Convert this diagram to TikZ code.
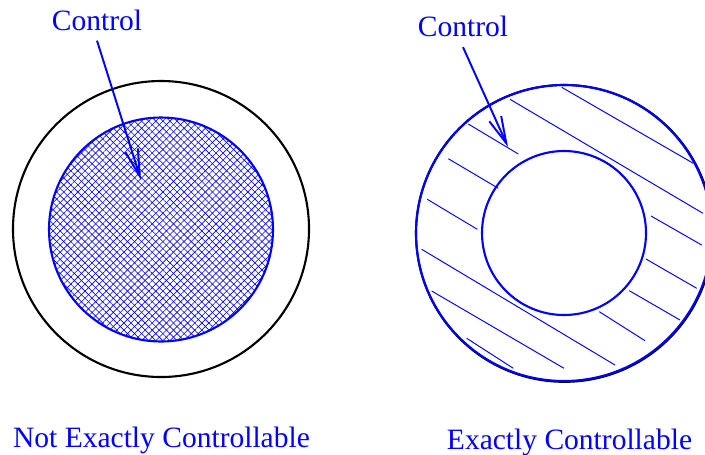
\documentclass[tikz,border=0pt]{standalone}
\usepackage{fontspec}
\setmainfont{Liberation Serif}
\newfontfamily\figfont{Liberation Serif}
\usetikzlibrary{arrows.meta,patterns.meta}

\begin{document}
\begin{tikzpicture}[x=0.02cm, y=-0.02cm,
    lbl/.style={text=blue, font=\figfont\fontsize{16.8}{20}\selectfont, inner sep=0.2cm, anchor=base},
    arr/.style={blue, line width=1.1pt, -{Straight Barb[length=0.54cm, width=0.26cm, line width=1.1pt]}},
    rim/.style={line width=1.2pt},
    hatch/.style={blue, line width=0.55pt},
    xhatch/.style={pattern={Lines[angle=#1, distance=2.85pt, line width=0.35pt]}, pattern color=blue}
]
\useasboundingbox (0,0) rectangle (705,454);

% not exactly controllable
\draw[rim] (161,229) circle[radius=148];
\fill[xhatch=45] (161,229.5) circle[radius=112];
\fill[xhatch=-45] (161,229.5) circle[radius=112];
\draw[rim, blue] (161,229.5) circle[radius=112];

% exactly controllable
\draw[rim] (564.4,233.4) circle[radius=148.4];
\draw[rim, blue] (564,233) circle[radius=148];
\foreach \a/\b in {{561.7,87.3}/{693.3,163.3}, {510,99.3}/{703,213.3},
    {468.3,124}/{518.3,154}, {448.3,158.7}/{498.3,188.3},
    {427.3,199.3}/{477.3,229.3}, {421.7,249.3}/{615,365},
    {431.7,291}/{564,368.3}, {466.7,338.3}/{513.3,368.3},
    {651,216}/{701.7,245}, {646,259}/{696.7,288.3},
    {629.3,290.7}/{680,320}, {599.3,311.7}/{645,340.7}}
  \draw[hatch] (\a) -- (\b);
\draw[rim, blue] (564,233) circle[radius=82];

% labels and arrows
\node[lbl] (ctrlL) at (97,30) {Control};
\coordinate (tipL) at (141,180);
\draw[arr] (ctrlL.south) -- (tipL);

\node[lbl] (ctrlR) at (463,36.5) {Control};
\coordinate (tipR) at (508,147);
\draw[arr] (ctrlR.south) -- (tipR);

\node[lbl] (notexact) at (161.5,447) {Not Exactly Controllable};
\node[lbl] (exact) at (569.5,449.3) {Exactly Controllable};
\end{tikzpicture}
\end{document}
